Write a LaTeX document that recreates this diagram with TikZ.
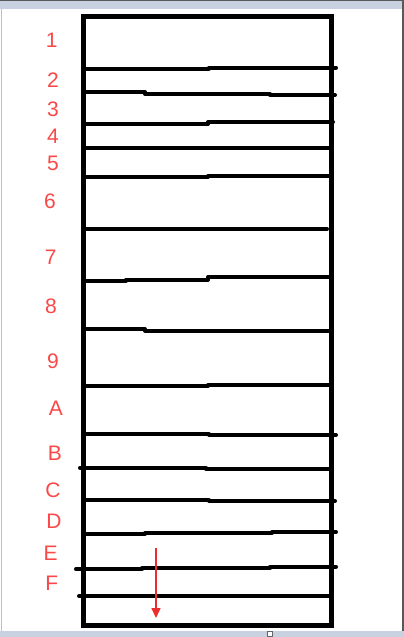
\documentclass[tikz,border=0pt]{standalone}
\usepackage{fontspec}
\setmainfont{Liberation Sans}
\usetikzlibrary{arrows.meta}
\definecolor{lblred}{RGB}{250,72,72}
\definecolor{arrred}{RGB}{235,45,45}
\definecolor{band}{RGB}{200,209,223}
\begin{document}
\begin{tikzpicture}[x=1pt,y=-1pt,
  lbl/.style={text=lblred,font=\fontsize{21}{21}\selectfont,inner sep=0pt,anchor=center},
  rule/.style={line width=4pt,line cap=round,line join=round},
  frame/.style={line width=5pt},
  guide/.style={line width=1.5pt,draw=arrred,-{Triangle[length=10pt,width=9pt]}}]
\useasboundingbox (0,0) rectangle (404,637);
\fill[white] (0,0) rectangle (404,637);
% window chrome
\fill[band] (0,0) rectangle (404,9);
\fill[gray!70!black] (0,0) rectangle (404,1.2);
\fill[band] (0,631) rectangle (404,637);
\draw[gray!50,line width=1pt] (1,9) -- (1,631);
\draw[gray!70!black,line width=2pt] (403,0) -- (403,631);
\draw[gray!80!black,fill=white,line width=1pt] (267,631.5) rectangle (272,636.5);
% frame
\draw[frame] (83,16) rectangle (331,625.5);
% rules
\draw[rule] (85,68.5) -- (209,68.5) -- (209,67.5) -- (336,67.5);
\draw[rule] (85,92) -- (145,92) -- (145,94) -- (270,94) -- (270,95) -- (335,95);
\draw[rule] (85,124) -- (208,124) -- (208,122) -- (333,122);
\draw[rule] (85,148) -- (329,148);
\draw[rule] (85,177) -- (208,177) -- (208,176) -- (329,176);
\draw[rule] (85,229) -- (327,229);
\draw[rule] (85,281) -- (126,281) -- (126,279.5) -- (208,279.5) -- (208,277) -- (329,277);
\draw[rule] (85,329) -- (145,329) -- (145,330.5) -- (329,330.5);
\draw[rule] (85,386) -- (208,386) -- (208,385) -- (329,385);
\draw[rule] (85,434.3) -- (209,434.3) -- (209,435) -- (336,435);
\draw[rule] (80,467.7) -- (206,467.7) -- (206,469) -- (329,469);
\draw[rule] (85,500) -- (209,500) -- (209,501) -- (335,501);
\draw[rule] (85,534) -- (145,534) -- (145,533) -- (272,533) -- (272,532) -- (336,532);
\draw[rule] (76,569.3) -- (142,569.3) -- (142,568.3) -- (270,568.3) -- (270,566.7) -- (336,566.7);
\draw[rule] (79,596) -- (329,596);
% labels
\node[lbl] (l1) at (51.7,40.7) {1};
\node[lbl] (l2) at (53,80) {2};
\node[lbl] (l3) at (53,109) {3};
\node[lbl] (l4) at (53,136.7) {4};
\node[lbl] (l5) at (53,163) {5};
\node[lbl] (l6) at (50,201.7) {6};
\node[lbl] (l7) at (50.7,257) {7};
\node[lbl] (l8) at (51,306) {8};
\node[lbl] (l9) at (53,361.7) {9};
\node[lbl] (lA) at (56,408) {A};
\node[lbl] (lB) at (55,453) {B};
\node[lbl] (lC) at (53,490.7) {C};
\node[lbl] (lD) at (54,521.7) {D};
\node[lbl] (lE) at (50.7,553) {E};
\node[lbl] (lF) at (51.7,583) {F};
% arrow
\coordinate (as) at (156,548);
\coordinate (ae) at (156,618);
\draw[guide] (as) -- (ae);
\end{tikzpicture}
\end{document}
